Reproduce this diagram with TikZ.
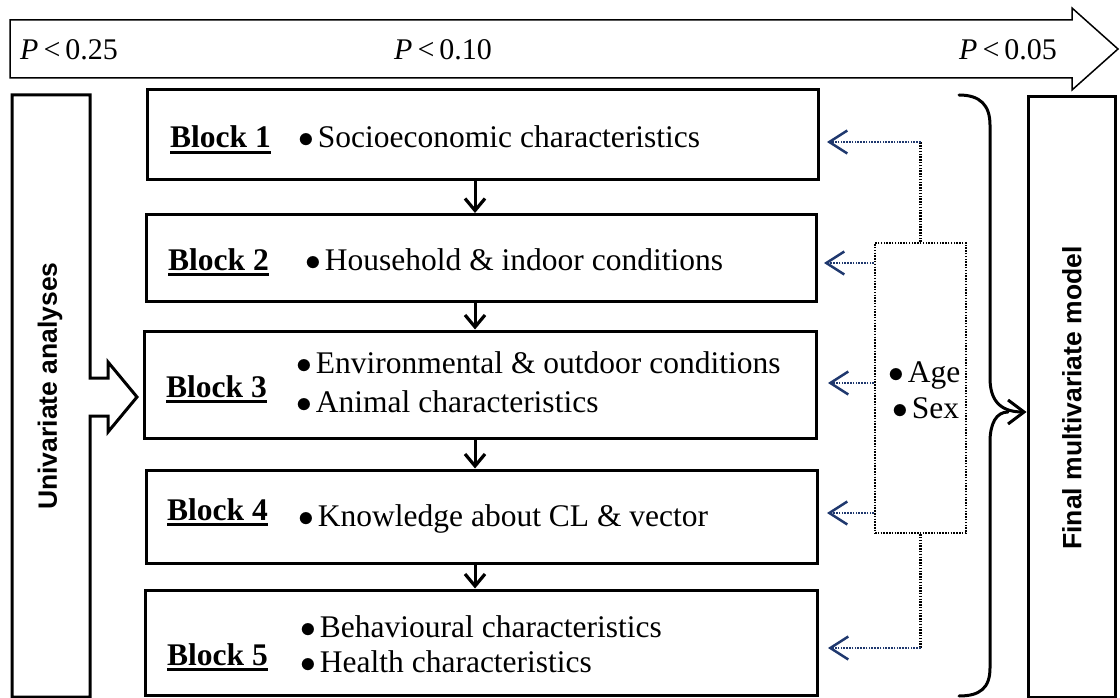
\RequirePackage{fix-cm}
\documentclass[tikz,border=0pt]{standalone}
\usepackage{fontspec}
\setmainfont{Liberation Serif}
\newfontfamily\arialfam{Liberation Sans}
\usetikzlibrary{arrows.meta}
\definecolor{navy}{RGB}{31,56,110}
\newcommand\bul{$\bullet$\hspace{4pt}}
\begin{document}
\begin{tikzpicture}[x=1pt,y=-1pt,
  font=\fontsize{31.5}{37}\selectfont,
  blockbox/.style={draw, line width=3pt, inner sep=0pt},
  blocklbl/.style={anchor=base west, inner sep=0pt, font=\fontsize{31.5}{37}\selectfont\bfseries},
  itemtxt/.style={anchor=base west, inner sep=0pt},
  plbl/.style={anchor=base west, inner sep=0pt, font=\fontsize{30}{36}\selectfont},
  sidelbl/.style={rotate=90, inner sep=0pt, font=\arialfam\bfseries\fontsize{26.5}{30}\selectfont},
  ulline/.style={line width=2.2pt},
  downarr/.style={line width=3pt, -{Straight Barb[length=12pt,width=20pt,line width=3.2pt]}},
  navyarr/.style={navy, line width=2.2pt, dash pattern=on 1.5pt off 1.3pt, -{Straight Barb[length=18pt,width=23pt,line width=2.5pt]}},
  blackdot/.style={black, line width=2.2pt, dash pattern=on 1.5pt off 1.3pt},
  heavy/.style={line width=3pt, line join=miter}
]
\useasboundingbox (0,0) rectangle (1120,698);

% top wide arrow
\draw[line width=1.5pt, line join=miter] (10,20) -- (1072,20) -- (1072,8) -- (1118,49) -- (1072,90) -- (1072,78) -- (10,78) -- cycle;
\node[plbl] (p25) at (20,60) {\textit{P}\,<\,0.25};
\node[plbl] (p10) at (394,60) {\textit{P}\,<\,0.10};
\node[plbl] (p05) at (959,60) {\textit{P}\,<\,0.05};

% left univariate shape
\draw[heavy] (12,95) -- (90,95) -- (90,378) -- (108,378) -- (108,362) -- (137,397) -- (108,432) -- (108,416) -- (90,416) -- (90,697) -- (12,697) -- cycle;
\node[sidelbl] (uni) at (50,386) {Univariate analyses};

% blocks
\node[blockbox, minimum width=671pt, minimum height=90pt] (b1) at (482.5,135) {};
\node[blockbox, minimum width=670pt, minimum height=87pt] (b2) at (481,258) {};
\node[blockbox, minimum width=672pt, minimum height=107pt] (b3) at (480,384.5) {};
\node[blockbox, minimum width=671pt, minimum height=93pt] (b4) at (481.5,516.5) {};
\node[blockbox, minimum width=672pt, minimum height=105pt] (b5) at (481,642.5) {};

% block labels
\node[blocklbl] (l1) at (170,148) {Block 1};
\node[blocklbl] (l2) at (168,270) {Block 2};
\node[blocklbl] (l3) at (166,397) {Block 3};
\node[blocklbl] (l4) at (167,520) {Block 4};
\node[blocklbl] (l5) at (167,665) {Block 5};
\foreach \n in {l1,l2,l3,l4,l5}{
  \draw[ulline] ([yshift=-4.5pt]\n.base west) -- ([yshift=-4.5pt]\n.base east);
}

% block items
\node[itemtxt] (i1) at (298,148) {\bul Socioeconomic characteristics};
\node[itemtxt] (i2) at (305,270) {\bul Household \& indoor conditions};
\node[itemtxt] (i3a) at (296,373) {\bul Environmental \& outdoor conditions};
\node[itemtxt] (i3b) at (296,412) {\bul Animal characteristics};
\node[itemtxt] (i4) at (298,526) {\bul Knowledge about CL \& vector};
\node[itemtxt] (i5a) at (300,637) {\bul Behavioural characteristics};
\node[itemtxt] (i5b) at (300,672) {\bul Health characteristics};

% down arrows
\coordinate (ax) at (475,0);
\draw[downarr] (ax |- b1.south) -- (ax |- b2.north);
\draw[downarr] (ax |- b2.south) -- (ax |- b3.north);
\draw[downarr] (ax |- b3.south) -- (ax |- b4.north);
\draw[downarr] (ax |- b4.south) -- (ax |- b5.north);

% Age / Sex dotted box
\node[draw, blackdot, minimum width=91pt, minimum height=290pt, inner sep=0pt] (as) at (920.5,388) {};
\node[itemtxt] (age) at (888,382) {\bul Age};
\node[itemtxt] (sex) at (892,418) {\bul Sex};

\coordinate (t1) at (827,142);
\coordinate (t2) at (824,263);
\coordinate (t3) at (828,383);
\coordinate (t4) at (827,513);
\coordinate (t5) at (828,648);

\draw[blackdot] (as.north) -- (as.north |- t1);
\draw[navyarr] (as.north |- t1) -- (t1);
\draw[navyarr] (as.west |- t2) -- (t2);
\draw[navyarr] (as.west |- t3) -- (t3);
\draw[navyarr] (as.west |- t4) -- (t4);
\draw[blackdot] (as.south) -- (as.south |- t5);
\draw[navyarr] (as.south |- t5) -- (t5);

% final model box
\node[blockbox, minimum width=87pt, minimum height=600pt] (fm) at (1071.5,397) {};
\node[sidelbl] (fml) at (1072,398) {Final multivariate model};

% brace
\coordinate (bt) at (fm.west |- 0,412);
\draw[line width=3pt, line cap=round, -{Straight Barb[length=16pt,width=24pt,line width=3pt]}]
  (959,95) .. controls (980,95) and (990,105) .. (990,125) -- (990,378)
  .. controls (990,398) and (998,412) .. (bt);
\draw[line width=3pt, line cap=round]
  (1008,412) .. controls (996,412) and (990,424) .. (990,442) -- (990,668)
  .. controls (990,688) and (980,696) .. (959,696);
\end{tikzpicture}
\end{document}
